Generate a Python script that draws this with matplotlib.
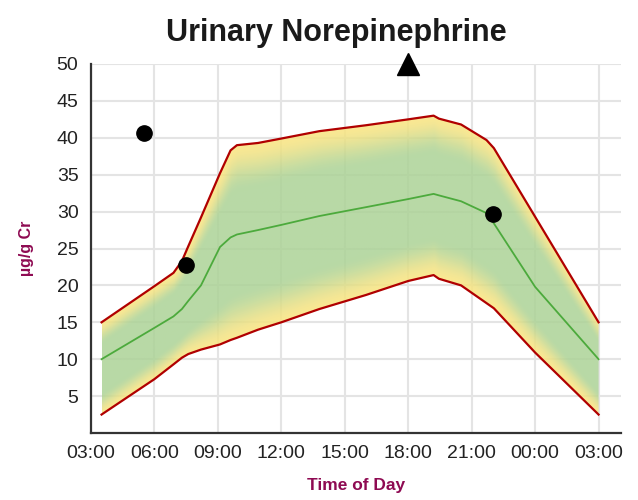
import numpy as np
import matplotlib
matplotlib.use("Agg")
import matplotlib.pyplot as plt
from matplotlib.patches import Polygon

plt.rcParams['font.family'] = ['Liberation Sans', 'DejaVu Sans']

# hours after 03:00 (0 = 03:00, 24 = 03:00 next day)
hours = [0.5, 3.0, 3.9, 4.3, 4.6, 5.2, 6.1, 6.6, 6.9, 7.9, 9.0, 10.8, 13.0,
         15.0, 16.2, 16.45, 17.5, 18.7, 19.05, 21.0, 24.0]
upper = [15.0, 19.9, 21.7, 23.3, 25.3, 29.2, 35.2, 38.3, 39.0, 39.3, 39.9, 40.9, 41.7,
         42.5, 43.0, 42.6, 41.8, 39.7, 38.6, 29.3, 15.0]
middle = [10.0, 14.25, 15.8, 16.8, 17.9, 20.0, 25.2, 26.5, 26.9, 27.5, 28.2, 29.4, 30.6,
          31.7, 32.4, 32.2, 31.4, 29.8, 28.4, 19.8, 10.0]
lower = [2.5, 7.3, 9.3, 10.2, 10.7, 11.3, 12.0, 12.6, 12.9, 14.0, 15.0, 16.8, 18.7,
         20.6, 21.4, 20.9, 20.0, 17.6, 16.9, 10.9, 2.5]

# patient results
pt_hours = [2.5, 4.5, 19.0]
pt_values = [40.6, 22.7, 29.7]
# result above the chart range
high_hours = [15.0]
high_values = [50]

tick_hours = [0, 3, 6, 9, 12, 15, 18, 21, 24]
tick_labels = ["03:00", "06:00", "09:00", "12:00", "15:00", "18:00", "21:00", "00:00", "03:00"]

label_col = '#8e0a52'

fig = plt.figure(figsize=(6.38, 5.0), dpi=100)
ax = fig.add_axes([0.1426, 0.134, 0.8304, 0.738])

ax.set_xlim(0, 25.05)
ax.set_ylim(0, 50)
ax.set_xticks(tick_hours)
ax.set_xticklabels(tick_labels)
ax.set_yticks(range(5, 51, 5))
ax.grid(True, color='#e4e4e4', linewidth=1.5)
ax.set_axisbelow(True)
ax.tick_params(length=0, labelsize=14, colors='#222222', pad=9)
for s in ['top', 'right']:
    ax.spines[s].set_visible(False)
for s in ['left', 'bottom']:
    ax.spines[s].set_color('#333333')
    ax.spines[s].set_linewidth(1.6)

# gradient band: yellow near the limits, green in the middle
gx = np.linspace(hours[0], hours[-1], 500)
gy = np.linspace(0, 50, 500)
X, Y = np.meshgrid(gx, gy)
lo = np.interp(X, hours, lower)
up = np.interp(X, hours, upper)
t = (Y - lo) / (up - lo)
d = np.clip(np.minimum(t, 1 - t) / 0.24, 0, 1)
w = d * d * (3 - 2 * d)
yellow = np.array([249, 228, 128]) / 255
green = np.array([172, 211, 150]) / 255
img = yellow[None, None, :] * (1 - w[..., None]) + green[None, None, :] * w[..., None]
im = ax.imshow(img, extent=[hours[0], hours[-1], 0, 50], origin='lower',
               aspect='auto', alpha=0.85, zorder=1, interpolation='bilinear')
poly = Polygon(np.column_stack([hours + hours[::-1], upper + lower[::-1]]),
               closed=True, facecolor='none', edgecolor='none')
ax.add_patch(poly)
im.set_clip_path(poly)

ax.plot(hours, upper, color='#b00000', linewidth=1.6, zorder=3)
ax.plot(hours, lower, color='#b00000', linewidth=1.6, zorder=3)
ax.plot(hours, middle, color='#4caa3c', linewidth=1.3, zorder=3)

ax.plot(pt_hours, pt_values, 'o', color='black', markersize=11, zorder=5)
ax.plot(high_hours, high_values, '^', color='black', markersize=16, zorder=5, clip_on=False)

fig.text(336 / 638, 1 - 41 / 500, "Urinary Norepinephrine", fontsize=22, fontweight='bold',
         color='#1a1a1a', ha='center', va='baseline')
ax.set_xlabel("Time of Day", fontsize=12.5, fontweight='bold', color=label_col, labelpad=11)
ax.set_ylabel("µg/g Cr", fontsize=11.5, fontweight='bold', color=label_col, labelpad=16)

fig.savefig("out.png", dpi=100)
